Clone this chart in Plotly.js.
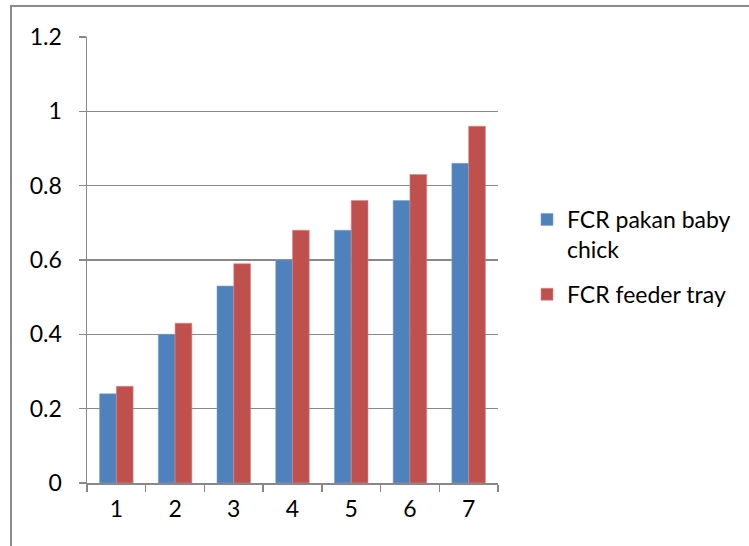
<!DOCTYPE html>
<html><head><meta charset="utf-8">
<script src="https://cdn.plot.ly/plotly-3.0.1.min.js"></script>
<style>html,body{margin:0;padding:0;background:#fff}#c{width:749px;height:546px}</style>
</head><body><div id="c"></div>
<script>
const categories = ['1','2','3','4','5','6','7'];
const pakanBabyChick = [0.24, 0.40, 0.53, 0.60, 0.68, 0.76, 0.86];
const feederTray = [0.26, 0.43, 0.59, 0.68, 0.76, 0.83, 0.96];
const seriesNames = ['FCR pakan baby<br>chick', 'FCR feeder tray'];

const L = 87, R = 498, T = 37, B = 483, W = 749, H = 546;
const pw = R - L, ph = B - T;
const px = v => (v - L) / pw, py = v => (B - v) / ph;
const font = {family: 'Lato, "Open Sans", sans-serif', size: 23, color: '#000'};
const grid = '#888888';

Plotly.newPlot('c', [
  {type: 'bar', x: categories, y: pakanBabyChick, name: seriesNames[0], legendgroup: 'a',
   marker: {color: '#4F81BD', line: {color: '#7FA3D0', width: 0.6}}},
  {type: 'bar', x: categories, y: feederTray, name: seriesNames[1], legendgroup: 'b',
   marker: {color: '#C0504D', line: {color: '#D98A88', width: 0.6}}}
], {
  width: W, height: H,
  margin: {l: L, r: W - R, t: T, b: H - B, pad: 0},
  paper_bgcolor: '#fff', plot_bgcolor: '#fff',
  font: font,
  barmode: 'group', bargap: 0.4286, bargroupgap: 0,
  showlegend: true,
  legend: {x: px(527), xanchor: 'left', y: py(198), yanchor: 'top', valign: 'top',
           traceorder: 'grouped', tracegroupgap: 12,
           font: font, itemwidth: 30, bgcolor: 'rgba(0,0,0,0)'},
  xaxis: {type: 'category', showgrid: false, showline: true, linecolor: grid, linewidth: 1.5,
          ticks: 'outside', tickson: 'boundaries', ticklen: 7, tickcolor: grid, tickwidth: 1.5,
          tickfont: font, ticklabelstandoff: 5, zeroline: false},
  yaxis: {range: [0, 1.2], tickvals: [0, 0.2, 0.4, 0.6, 0.8, 1, 1.2],
          ticktext: ['0', '0.2', '0.4', '0.6', '0.8', '1', '1.2'],
          showgrid: true, gridcolor: grid, gridwidth: 1.5, showline: true, linecolor: grid, linewidth: 1.5,
          ticks: 'outside', ticklen: 7, tickcolor: grid, tickwidth: 1.5, tickfont: font,
          ticklabelstandoff: 12, zeroline: false},
  shapes: [{type: 'rect', xref: 'paper', yref: 'paper',
            x0: px(11), x1: px(W + 20), y0: py(H + 20), y1: py(6),
            line: {color: '#8a8a8a', width: 2}, fillcolor: 'rgba(0,0,0,0)', layer: 'below'}]
}, {staticPlot: true, displayModeBar: false});
</script></body></html>
